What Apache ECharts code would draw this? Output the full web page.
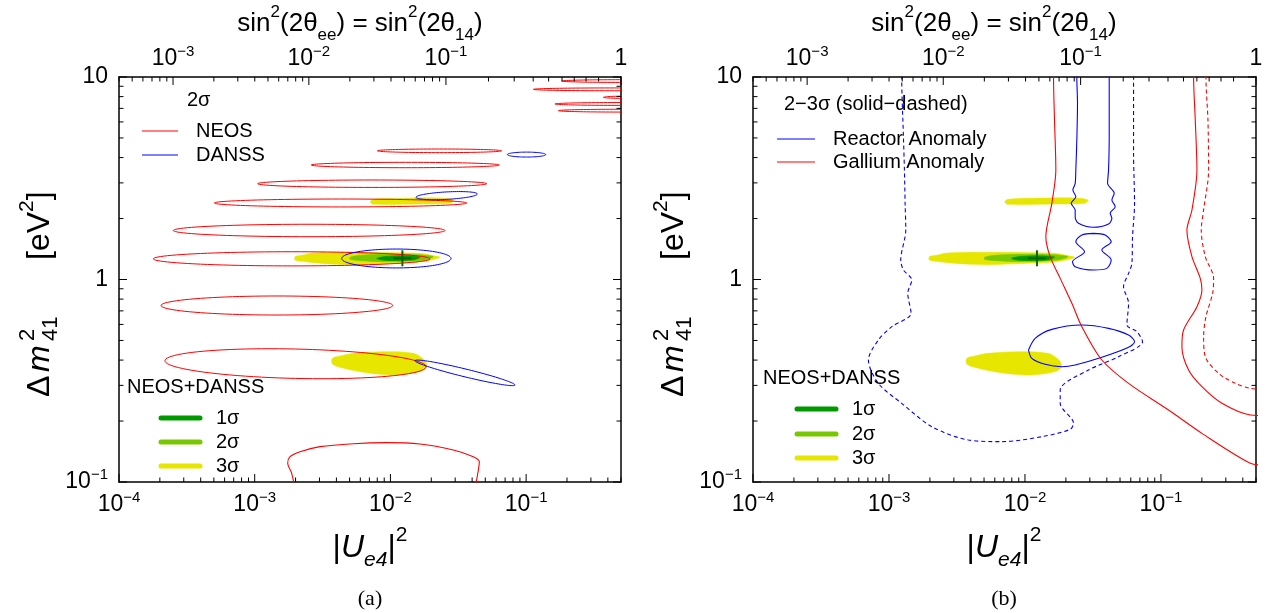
<!DOCTYPE html>
<html><head><meta charset="utf-8">
<script src="https://cdn.jsdelivr.net/npm/echarts@6/dist/echarts.min.js"></script>
<style>html,body{margin:0;padding:0;background:#fff}#c{width:1275px;height:613px}</style>
</head><body><div id="c"></div><script>
// ================= DATA =================
const bottomTickPowers = [-4, -3, -2, -1];          // |U_e4|^2 = 10^p
const topTickValues = [1e-3, 1e-2, 1e-1, 1];        // sin^2(2θ)
const yTickValues = [0.1, 1, 10];                   // Δm^2_41 [eV^2]
const xRange = [1e-4, 0.5];
const yRange = [0.1, 10];

// NEOS 2σ islands: [U_left, m_left, U_right, m_right, m_top_at_centre]
const neosIslands = [
  [1.79e-4, 1.265, 0.0196, 1.265, 1.371],
  [2.51e-4, 1.746, 0.0252, 1.746, 1.874],
  [5.04e-4, 2.387, 0.0365, 2.387, 2.497],
  [1.05e-3, 2.972, 0.0513, 2.972, 3.10],
  [2.61e-3, 3.676, 0.0635, 3.676, 3.79],
  [8.0e-3, 4.32, 0.066, 4.32, 4.41],
  [2.04e-4, 0.744, 0.0104, 0.744, 0.829],
  [2.18e-4, 0.397, 0.0183, 0.371, 0.4536],
  [0.183, 9.55, 1.5, 9.55, 9.70],
  [0.113, 8.69, 1.5, 8.69, 8.83],
  [0.371, 7.94, 1.5, 7.94, 8.07],
  [0.163, 7.36, 1.5, 7.36, 7.48],
  [0.173, 6.82, 1.5, 6.82, 6.93]
];
// NEOS 2σ contour cut by the lower edge
const neosLowArc = [[0.00198,0.093],[0.001873,0.1104],[0.00175,0.1237],[0.00182,0.1334],[0.002157,0.1412],[0.003029,0.1495],[0.00533,0.1546],[0.00939,0.1564],[0.01652,0.154],[0.02907,0.1439],[0.0408,0.1334],[0.0452,0.126],[0.04445,0.1146],[0.04274,0.0985],[0.0423,0.093]];
// DANSS 2σ islands
const danssIslands = [
  [0.004375, 1.27, 0.02796, 1.27, 1.414],
  [0.01543, 2.547, 0.0437, 2.644, 2.707],
  [0.07268, 4.139, 0.1395, 4.139, 4.257],
  [0.01518, 0.397, 0.0828, 0.3013, 0.362]
];
// NEOS+DANSS allowed regions
const fit3Sigma = [
  [[0.001982,1.297],[0.002218,1.316],[0.002704,1.352],[0.005329,1.362],[0.01051,1.357],[0.01652,1.347],[0.02014,1.316],[0.0232,1.287],[0.02014,1.248],[0.01652,1.22],[0.01051,1.202],[0.005329,1.184],[0.003588,1.193],[0.002704,1.211],[0.002218,1.229],[0.001982,1.248]],
  [[0.00715,2.441],[0.00748,2.488],[0.01112,2.516],[0.0232,2.526],[0.0291,2.47],[0.02749,2.378],[0.01652,2.36],[0.00748,2.351],[0.00715,2.396]],
  [[0.003733,0.408],[0.004253,0.4189],[0.005329,0.4318],[0.008869,0.4402],[0.01476,0.4318],[0.01799,0.3973],[0.01851,0.3683],[0.01652,0.3506],[0.01112,0.3376],[0.00838,0.3401],[0.00597,0.3506],[0.004253,0.3683],[0.003733,0.3826]]
];
const fit2Sigma = [
  [[0.005038,1.287],[0.00597,1.316],[0.00939,1.331],[0.01652,1.326],[0.02073,1.297],[0.01748,1.248],[0.00939,1.225],[0.00597,1.239],[0.005038,1.258]]
];
const fit1Sigma = [
  [[0.00792,1.272],[0.00939,1.301],[0.01245,1.311],[0.01652,1.292],[0.01476,1.248],[0.01051,1.239],[0.00838,1.253]]
];
const bestFit = [[0.01225, 1.273]];
// Reactor anomaly (blue) 2σ solid, 3σ dashed
const raSolidUpper = [[0.02406,11],[0.02406,9.96],[0.02434,7.41],[0.0241,5.08],[0.02366,3.47],[0.0234,2.985],[0.02251,2.767],[0.02366,2.565],[0.02187,2.378],[0.0234,2.204],[0.0234,2.043],[0.02476,1.894],[0.0319,1.81],[0.04117,1.88],[0.04356,2.005],[0.04235,2.122],[0.0461,2.29],[0.04356,2.47],[0.04532,2.665],[0.04049,2.985],[0.04117,3.47],[0.04164,5.08],[0.04164,9.96],[0.04164,11]];
const raSolidLower = [[0.0319,1.69],[0.0389,1.659],[0.04307,1.538],[0.03676,1.399],[0.04307,1.248],[0.04002,1.135],[0.0319,1.114],[0.0234,1.157],[0.02237,1.225],[0.02742,1.372],[0.02366,1.538],[0.0262,1.659],[0.0319,1.69]];
const raSolidLoop = [[0.01062,0.4486],[0.01189,0.5124],[0.01577,0.5673],[0.0262,0.5959],[0.04117,0.5737],[0.05779,0.532],[0.06395,0.4932],[0.05779,0.4624],[0.03676,0.4127],[0.0234,0.3783],[0.01867,0.3711],[0.01408,0.3812],[0.01123,0.408],[0.01062,0.4486]];
const raDashed = [[0.001241,11],[0.001241,9.96],[0.001277,5.08],[0.001299,3.47],[0.001314,2.378],[0.001329,1.756],[0.00122,1.248],[0.001277,1.114],[0.001471,0.994],[0.001374,0.8545],[0.001454,0.6808],[0.001048,0.5848],[0.000836,0.5027],[0.000706,0.4003],[0.000836,0.307],[0.001241,0.2446],[0.002064,0.1876],[0.003841,0.1612],[0.006757,0.1582],[0.0133,0.1674],[0.02151,0.182],[0.02276,0.1949],[0.01816,0.2446],[0.01816,0.2847],[0.02934,0.3573],[0.04878,0.4158],[0.07322,0.4932],[0.06653,0.5525],[0.05617,0.5959],[0.05779,0.7629],[0.05309,0.9218],[0.05779,1.072],[0.06113,1.202],[0.06182,1.628],[0.06395,2.378],[0.06288,4.2],[0.06288,9.96],[0.06288,11]];
// Gallium anomaly (red) 2σ solid, 3σ dashed
const gaSolidLeft = [[0.01622,11],[0.01622,9.96],[0.01649,6.13],[0.01687,3.47],[0.01576,2.378],[0.01424,1.628],[0.01532,1.297],[0.01816,1.013],[0.02212,0.7629],[0.0262,0.5848],[0.03676,0.4003],[0.05779,0.307],[0.1138,0.2267],[0.2001,0.1739],[0.4542,0.1237],[0.55,0.1216]];
const gaSolidRight = [[0.1738,11],[0.1738,9.96],[0.1788,6.13],[0.1839,3.47],[0.169,2.204],[0.1552,1.756],[0.169,1.297],[0.1946,1.013],[0.2001,0.8874],[0.1839,0.734],[0.1467,0.563],[0.1426,0.4659],[0.1597,0.3573],[0.2001,0.2956],[0.2809,0.2446],[0.4542,0.2142],[0.55,0.213]];
const gaDashed = [[0.2142,11],[0.2142,9.96],[0.2216,6.13],[0.2241,3.47],[0.2059,2.204],[0.1979,1.756],[0.2118,1.297],[0.2439,1.013],[0.2399,0.8545],[0.2142,0.6551],[0.2059,0.5221],[0.2118,0.4158],[0.2655,0.344],[0.3521,0.307],[0.4542,0.29],[0.55,0.287]];

// ================= STYLE =================
const FONT = '"Liberation Sans", Arial, Helvetica, sans-serif';
const SERIF = '"Liberation Serif", "DejaVu Serif", serif';
const RED = '#ff0000', BLUE = '#0000ff';
const C1 = '#009a00', C2 = '#78c800', C3 = '#e6e600', CROSS = '#0a640a';
const tickRich = {
  b: {fontSize: 23, fontFamily: FONT, color: '#000', lineHeight: 30},
  s: {fontSize: 15, fontFamily: FONT, color: '#000', lineHeight: 15, verticalAlign: 'top'}
};
function powText(e) {
  if (e === 0) return '{b|1}';
  if (e === 1) return '{b|10}';
  return '{b|10}{s|' + (e < 0 ? '\u2212' : '') + Math.abs(e) + '}';
}
function powLabel(v) {
  const l = Math.log10(v), e = Math.round(l);
  if (Math.abs(l - e) > 1e-6) return '';
  return powText(e);
}
const U_of_s = s => (1 - Math.sqrt(1 - s)) / 2;

// ================= SERIES HELPERS =================
function ellipseSeries(g, islands, color) {
  return {
    type: 'custom', xAxisIndex: 2 * g, yAxisIndex: 2 * g, clip: true, z: 5,
    data: islands,
    renderItem: function (params, api) {
      const u1 = api.value(0), m1 = api.value(1), u2 = api.value(2), m2 = api.value(3), mt = api.value(4);
      const p1 = api.coord([u1, m1]), p2 = api.coord([u2, m2]);
      const cx = (p1[0] + p2[0]) / 2, cy = (p1[1] + p2[1]) / 2;
      const b = cy - api.coord([Math.sqrt(u1 * u2), mt])[1];
      const ax = (p2[0] - p1[0]) / 2, ay = (p2[1] - p1[1]) / 2;
      const pts = [];
      for (let k = 0; k < 96; k++) {
        const t = k / 96 * 2 * Math.PI;
        pts.push([cx + ax * Math.cos(t), cy + ay * Math.cos(t) - b * Math.sin(t)]);
      }
      return {type: 'polygon', shape: {points: pts}, style: {fill: 'transparent', stroke: color, lineWidth: 1}};
    }
  };
}
function areaSeries(g, polys, color, z) {
  return {
    type: 'custom', xAxisIndex: 2 * g, yAxisIndex: 2 * g, clip: true, z: z,
    data: polys.map(p => p[0]),
    renderItem: function (params, api) {
      const poly = polys[params.dataIndex];
      return {type: 'polygon', shape: {points: poly.map(p => api.coord(p)), smooth: 0.3}, style: {fill: color, stroke: color, lineWidth: 0.5}};
    }
  };
}
function lineSeries(g, data, color, dashed) {
  return {
    type: 'line', xAxisIndex: 2 * g, yAxisIndex: 2 * g, data: data, showSymbol: false, symbol: 'none',
    smooth: 0.3, clip: true, z: 6, silent: true,
    lineStyle: {color: color, width: 1.1, type: dashed ? [4, 3] : 'solid'}
  };
}
function crossSeries(g) {
  return {
    type: 'custom', xAxisIndex: 2 * g, yAxisIndex: 2 * g, clip: true, z: 8, data: bestFit,
    renderItem: function (params, api) {
      const p = api.coord([api.value(0), api.value(1)]);
      return {type: 'group', children: [
        {type: 'line', shape: {x1: p[0] - 9, y1: p[1], x2: p[0] + 9, y2: p[1]}, style: {stroke: CROSS, lineWidth: 2}},
        {type: 'line', shape: {x1: p[0], y1: p[1] - 8, x2: p[0], y2: p[1] + 8}, style: {stroke: CROSS, lineWidth: 2}}
      ]};
    }
  };
}
// frame ticks: kind 1 bottom major, 2 bottom minor, 3 left major, 4 left minor,
// 5 right major, 6 right minor, 7 top major (value = sin^2 2θ), 8 top minor
function frameTickData() {
  const d = [];
  for (const e of bottomTickPowers) {
    for (let k = 1; k <= 9; k++) {
      const v = k * Math.pow(10, e);
      if (v <= xRange[1]) d.push([v, k === 1 ? 1 : 2]);
    }
  }
  for (let e = -1; e <= 1; e++) {
    for (let k = 1; k <= 9; k++) {
      const v = k * Math.pow(10, e);
      if (v > yRange[1] + 1e-9) continue;
      d.push([v, k === 1 ? 3 : 4]);
      d.push([v, k === 1 ? 5 : 6]);
    }
  }
  for (let e = -4; e <= 0; e++) {
    for (let k = 1; k <= 9; k++) {
      const s = k * Math.pow(10, e);
      if (s > 1 + 1e-9 || U_of_s(s) < xRange[0] * 0.999) continue;
      const major = topTickValues.some(t => Math.abs(t - s) < 1e-12);
      d.push([s, major ? 7 : 8]);
    }
  }
  return d;
}
function tickSeries(g) {
  return {
    type: 'custom', xAxisIndex: 2 * g, yAxisIndex: 2 * g, clip: false, z: 20, silent: true,
    data: frameTickData(),
    renderItem: function (params, api) {
      const v = api.value(0), k = api.value(1);
      const L = (k % 2 === 1) ? 8 : 4.5;
      let p, dx = 0, dy = 0;
      if (k <= 2) { p = api.coord([v, yRange[0]]); dy = -L; }
      else if (k <= 4) { p = api.coord([xRange[0], v]); dx = L; }
      else if (k <= 6) { p = api.coord([xRange[1], v]); dx = -L; }
      else { p = api.coord([U_of_s(v), yRange[1]]); dy = L; }
      const ch = [{type: 'line', shape: {x1: p[0], y1: p[1], x2: p[0] + dx, y2: p[1] + dy}, style: {stroke: '#000', lineWidth: 1}}];
      if (k === 7) {
        ch.push({type: 'text', x: p[0], y: p[1] - 3, style: {text: powText(Math.round(Math.log10(v))), rich: tickRich, align: 'center', verticalAlign: 'bottom'}});
      }
      return {type: 'group', children: ch};
    }
  };
}

// ================= AXES =================
const axisLine = {show: true, onZero: false, lineStyle: {color: '#000', width: 1.5}};
const grids = [
  {left: 119, top: 77, width: 502, height: 405},
  {left: 753, top: 77, width: 503, height: 405}
];
const xAxes = [], yAxes = [];
for (let g = 0; g < 2; g++) {
  xAxes.push({type: 'log', logBase: 10, gridIndex: g, min: xRange[0], max: xRange[1], position: 'bottom',
    axisLine: axisLine, axisTick: {show: false}, splitLine: {show: false}, minorTick: {show: false},
    axisLabel: {formatter: powLabel, rich: tickRich, margin: 8, showMaxLabel: false, hideOverlap: false}});
  xAxes.push({type: 'log', logBase: 10, gridIndex: g, min: xRange[0], max: xRange[1], position: 'top',
    axisLine: axisLine, axisTick: {show: false}, splitLine: {show: false}, axisLabel: {show: false}});
  yAxes.push({type: 'log', logBase: 10, gridIndex: g, min: yRange[0], max: yRange[1], position: 'left',
    axisLine: axisLine, axisTick: {show: false}, splitLine: {show: false},
    axisLabel: {formatter: powLabel, rich: tickRich, margin: 11, hideOverlap: false}});
  yAxes.push({type: 'log', logBase: 10, gridIndex: g, min: yRange[0], max: yRange[1], position: 'right',
    axisLine: axisLine, axisTick: {show: false}, splitLine: {show: false}, axisLabel: {show: false}});
}

// ================= SERIES =================
const series = [];
for (let g = 0; g < 2; g++) {
  series.push(areaSeries(g, fit3Sigma, C3, 2));
  series.push(areaSeries(g, fit2Sigma, C2, 3));
  series.push(areaSeries(g, fit1Sigma, C1, 4));
}
series.push(ellipseSeries(0, neosIslands, RED));
series.push(ellipseSeries(0, danssIslands, BLUE));
series.push(lineSeries(0, neosLowArc, RED, false));
series.push(lineSeries(1, raSolidUpper, BLUE, false));
series.push(lineSeries(1, raSolidLower, BLUE, false));
series.push(lineSeries(1, raSolidLoop, BLUE, false));
series.push(lineSeries(1, raDashed, BLUE, true));
series.push(lineSeries(1, gaSolidLeft, RED, false));
series.push(lineSeries(1, gaSolidRight, RED, false));
series.push(lineSeries(1, gaDashed, RED, true));
series.push(crossSeries(0));
series.push(crossSeries(1));
series.push(tickSeries(0));
series.push(tickSeries(1));

// ================= DECORATION (titles, legends) =================
const titleRich = {
  t: {fontSize: 26, fontFamily: FONT, color: '#000', lineHeight: 40},
  it: {fontSize: 32, fontFamily: FONT, fontStyle: 'italic', color: '#000', lineHeight: 46},
  T: {fontSize: 32, fontFamily: FONT, color: '#000', lineHeight: 46},
  sp: {fontSize: 17, fontFamily: FONT, color: '#000', lineHeight: 17, verticalAlign: 'top'},
  sb: {fontSize: 17, fontFamily: FONT, color: '#000', lineHeight: 17, verticalAlign: 'bottom'},
  isb: {fontSize: 21, fontFamily: FONT, fontStyle: 'italic', color: '#000', lineHeight: 21, verticalAlign: 'bottom'},
  sp2: {fontSize: 21, fontFamily: FONT, color: '#000', lineHeight: 21, verticalAlign: 'top'}
};
function txt(x, y, text, size, align, extra) {
  return Object.assign({type: 'text', x: x, y: y, z: 30,
    style: {text: text, fontSize: size, fontFamily: FONT, fill: '#000', align: align || 'left', verticalAlign: 'middle', rich: titleRich}}, extra || {});
}
function seg(x1, x2, y, color, w) {
  return {type: 'line', z: 30, shape: {x1: x1, y1: y, x2: x2, y2: y}, style: {stroke: color, lineWidth: w, lineCap: w > 2 ? 'round' : 'butt'}};
}
function yTitle(cx) {
  return {type: 'group', x: cx, y: 397, rotation: Math.PI / 2, z: 30, children: [
    {type: 'text', x: 0, y: 0, style: {text: '\u0394', fontSize: 32, fontFamily: FONT, fill: '#000', verticalAlign: 'middle', align: 'left'}},
    {type: 'text', x: 25, y: 0, style: {text: 'm', fontSize: 32, fontStyle: 'italic', fontFamily: FONT, fill: '#000', verticalAlign: 'middle', align: 'left'}},
    {type: 'text', x: 56, y: -12, style: {text: '2', fontSize: 22, fontFamily: FONT, fill: '#000', verticalAlign: 'middle'}},
    {type: 'text', x: 56, y: 11, style: {text: '41', fontSize: 22, fontFamily: FONT, fill: '#000', verticalAlign: 'middle'}},
    {type: 'text', x: 137, y: 0, style: {text: '{T|[eV}{sp2|2}{T|]}', rich: titleRich, verticalAlign: 'middle', align: 'left'}}
  ]};
}
const graphic = [];
const topTitle = '{t|sin}{sp|2}{t|(2\u03b8}{sb|ee}{t|) = sin}{sp|2}{t|(2\u03b8}{sb|14}{t|)}';
const botTitle = '{T||}{it|U}{isb|e4}{T||}{sp2|2}';
[[360, 370, 40], [994, 1004, 674]].forEach(([tx, bx, yx], i) => {
  graphic.push(txt(tx, 24, topTitle, 26, 'center'));
  graphic.push(txt(bx, 548, botTitle, 30, 'center'));
  graphic.push(yTitle(yx));
  graphic.push({type: 'text', x: bx, y: 599, z: 30, style: {text: i === 0 ? '(a)' : '(b)', fontSize: 22, fontFamily: SERIF, fill: '#000', align: 'center', verticalAlign: 'middle'}});
});
// panel (a) legends
graphic.push(txt(187, 100, '2\u03c3', 20));
graphic.push(seg(142, 178, 131, RED, 1.1)); graphic.push(txt(196, 131, 'NEOS', 20));
graphic.push(seg(142, 178, 155, BLUE, 1.1)); graphic.push(txt(196, 155, 'DANSS', 20));
graphic.push(txt(127, 387, 'NEOS+DANSS', 20));
[[418, C1, '1\u03c3'], [442, C2, '2\u03c3'], [466, C3, '3\u03c3']].forEach(([y, c, t]) => {
  graphic.push(seg(161, 200, y, c, 5)); graphic.push(txt(216, y, t, 20));
});
// panel (b) legends
graphic.push(txt(784, 104, '2\u22123\u03c3 (solid\u2212dashed)', 20));
graphic.push(seg(777, 815, 139, BLUE, 1.1)); graphic.push(txt(833, 139, 'Reactor Anomaly', 20));
graphic.push(seg(777, 815, 162, RED, 1.1)); graphic.push(txt(833, 162, 'Gallium Anomaly', 20));
graphic.push(txt(763, 378, 'NEOS+DANSS', 20));
[[409, C1, '1\u03c3'], [434, C2, '2\u03c3'], [458, C3, '3\u03c3']].forEach(([y, c, t]) => {
  graphic.push(seg(797, 836, y, c, 5)); graphic.push(txt(852, y, t, 20));
});

const chart = echarts.init(document.getElementById('c'));
chart.setOption({
  animation: false,
  backgroundColor: '#fff',
  grid: grids,
  xAxis: xAxes,
  yAxis: yAxes,
  series: series,
  graphic: graphic
});
</script></body></html>
